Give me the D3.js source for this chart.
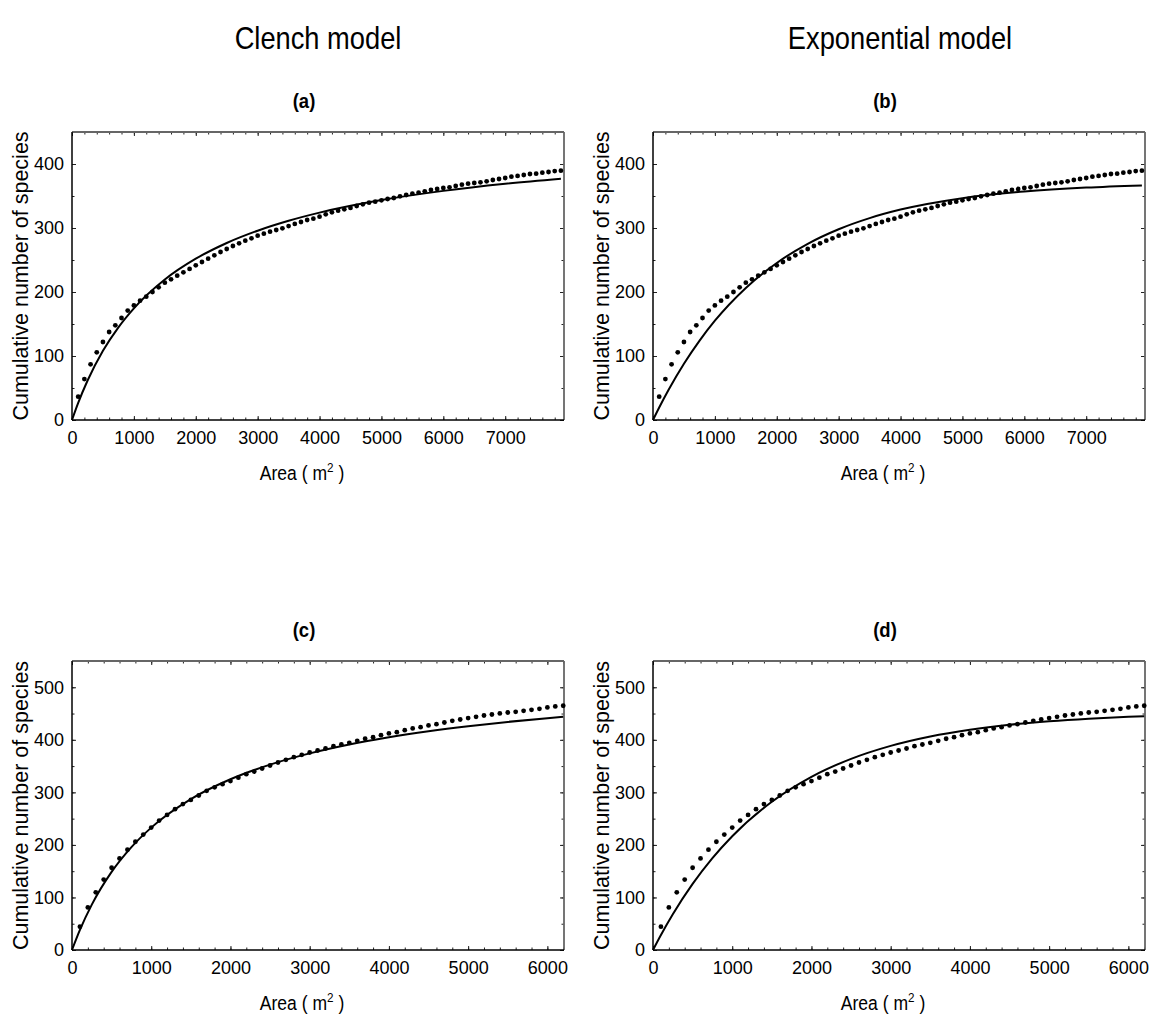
<!DOCTYPE html>
<html>
<head>
<meta charset="utf-8">
<script src="https://cdn.jsdelivr.net/npm/d3@7"></script>
<style>
body { margin: 0; background: #fff; }
svg text { font-family: Arial, "Liberation Sans", sans-serif; fill: #000; }
</style>
</head>
<body>
<div id="chart-area"></div>
<script>
/*
*    species accumulation: Clench vs exponential fits
*/

// observed cumulative species, one point every 100 m2 (top row data set)
var obsTopX = d3.range(100, 8000, 100)
var obsTopY = [36.5, 64, 87, 105.7, 121.9, 137.5, 148, 159.4, 171, 179,
    186.4, 192.7, 200, 207.3, 214.6, 219.8, 225.5, 230.7, 236, 241.7,
    246.9, 252, 257.3, 262.5, 267.2, 271.9, 276, 280.2, 283.8, 288,
    291.1, 294.3, 296.9, 299.5, 303, 306.3, 309.4, 312.5, 314.5, 317.7,
    321.4, 324.5, 327, 329.2, 331.3, 334.4, 337, 339.6, 341.1, 343.2,
    345.3, 346.9, 349.5, 351.6, 353.6, 355.2, 357.3, 359.4, 360.9, 362.5,
    363.5, 365.6, 367.7, 369.3, 370.3, 371.4, 373, 375, 376.6, 378.1,
    380.2, 381.3, 382.8, 384.4, 384.9, 386.5, 387.5, 389, 389.6]

// bottom row data set
var obsBotX = d3.range(100, 6300, 100)
var obsBotY = [44.4, 81, 109.8, 134, 156.5, 174.3, 191, 206, 219.7, 233,
    246.3, 257.1, 268, 277.8, 285.7, 294, 302.9, 309.5, 315.5, 321.5,
    328, 334.6, 339.5, 345.4, 351.1, 356.8, 362, 367, 371.4, 375.9,
    379.7, 383.5, 387.9, 391.1, 394.3, 398.1, 402, 405.1, 408.9, 412.1,
    414.6, 418.4, 421.6, 424.1, 427.3, 429.8, 433, 436.2, 438.7, 441.3,
    443.8, 446.3, 448.2, 450.2, 452, 453.3, 455.2, 457.1, 459, 461.6,
    463.5, 464.8]

// fitted curves at these areas
var fitTopX = [0, 100, 250, 500, 750, 1000, 1500, 2000, 2500, 3000, 3500, 4000, 5000, 6000, 7000, 7900]
var clenchTopY = [0, 26.7, 61.3, 108.1, 144.8, 174.5, 219.5, 252.0, 276.6, 295.8, 311.3, 324.0, 343.6, 358.0, 369.1, 377.1]
var expTopY = [0, 19.5, 46.9, 87.9, 123.7, 155.1, 206.3, 245.4, 275.3, 298.1, 315.5, 328.8, 346.6, 357.0, 363.1, 366.4]

var fitBotX = [0, 100, 250, 500, 750, 1000, 1500, 2000, 2500, 3000, 3500, 4000, 4500, 5000, 5500, 6000, 6200]
var clenchBotY = [0, 38.2, 86.3, 148.6, 195.8, 232.9, 287.1, 324.9, 352.8, 374.2, 391.2, 404.9, 416.3, 425.9, 434.1, 441.1, 443.7]
var expBotY = [0, 28.5, 68.0, 125.7, 174.8, 216.5, 282.1, 329.6, 363.8, 388.5, 406.4, 419.3, 428.7, 435.4, 440.3, 443.8, 444.9]

var xTicksTop = [0, 1000, 2000, 3000, 4000, 5000, 6000, 7000]
var xTicksBot = [0, 1000, 2000, 3000, 4000, 5000, 6000]
var yTicksTop = [0, 100, 200, 300, 400]
var yTicksBot = [0, 100, 200, 300, 400, 500]

var columnTitles = ["Clench model", "Exponential model"]
var panelLabels = ["(a)", "(b)", "(c)", "(d)"]

var plotW = 492
var panels = [
    {label: panelLabels[0], left: 72,  top: 132, h: 288, xMax: 7950, yMax: 450, obsX: obsTopX, obsY: obsTopY, fitX: fitTopX, fitY: clenchTopY, xt: xTicksTop, yt: yTicksTop},
    {label: panelLabels[1], left: 653, top: 132, h: 288, xMax: 7950, yMax: 450, obsX: obsTopX, obsY: obsTopY, fitX: fitTopX, fitY: expTopY, xt: xTicksTop, yt: yTicksTop},
    {label: panelLabels[2], left: 72,  top: 661, h: 289, xMax: 6210, yMax: 550, obsX: obsBotX, obsY: obsBotY, fitX: fitBotX, fitY: clenchBotY, xt: xTicksBot, yt: yTicksBot},
    {label: panelLabels[3], left: 653, top: 661, h: 289, xMax: 6210, yMax: 550, obsX: obsBotX, obsY: obsBotY, fitX: fitBotX, fitY: expBotY, xt: xTicksBot, yt: yTicksBot}
]

var svg = d3.select("#chart-area")
    .append("svg")
    .attr("width", 1153)
    .attr("height", 1021)

// condensed-looking text helper
function addText(parent, x, y, txt, size, weight) {
    return parent.append("text")
        .attr("transform", `translate(${x}, ${y}) scale(0.88, 1)`)
        .attr("text-anchor", "middle")
        .attr("font-size", size + "px")
        .attr("font-weight", weight || "normal")
        .text(txt)
}

addText(svg, 318, 49, columnTitles[0], 31)
addText(svg, 900, 49, columnTitles[1], 31)

panels.forEach((p) => {
    var g = svg.append("g").attr("transform", `translate(${p.left}, ${p.top})`)
    var x = d3.scaleLinear().domain([0, p.xMax]).range([0, plotW])
    var y = d3.scaleLinear().domain([0, p.yMax]).range([p.h, 0])

    var minorX = d3.range(0, p.xMax, 200)
    var minorY = d3.range(0, p.yMax, 50)

    // minor ticks on all sides (inward)
    g.append("g").attr("class", "minor").attr("transform", `translate(0, ${p.h})`)
        .call(d3.axisBottom(x).tickValues(minorX).tickSize(-2.5).tickFormat(""))
    g.append("g").attr("class", "minor")
        .call(d3.axisTop(x).tickValues(minorX).tickSize(-2.5).tickFormat(""))
    g.append("g").attr("class", "minor")
        .call(d3.axisLeft(y).tickValues(minorY).tickSize(-2.5).tickFormat(""))
    g.append("g").attr("class", "minor").attr("transform", `translate(${plotW}, 0)`)
        .call(d3.axisRight(y).tickValues(minorY).tickSize(-2.5).tickFormat(""))

    // major ticks + labels
    g.append("g").attr("class", "axis").attr("transform", `translate(0, ${p.h})`)
        .call(d3.axisBottom(x).tickValues(p.xt).tickSizeInner(-4).tickSizeOuter(0).tickPadding(11).tickFormat(d3.format("d")))
    g.append("g").attr("class", "axis")
        .call(d3.axisLeft(y).tickValues(p.yt).tickSizeInner(-4).tickSizeOuter(0).tickPadding(8).tickFormat(d3.format("d")))
    g.append("g").attr("class", "minor")
        .call(d3.axisTop(x).tickValues(p.xt).tickSize(-4).tickFormat(""))
    g.append("g").attr("class", "minor").attr("transform", `translate(${plotW}, 0)`)
        .call(d3.axisRight(y).tickValues(p.yt).tickSize(-4).tickFormat(""))

    g.selectAll(".domain").remove()
    g.selectAll(".tick line").attr("stroke", "#222")
    g.selectAll(".axis text").attr("font-size", "18px").attr("font-family", "Arial, 'Liberation Sans', sans-serif").attr("fill", "#000")

    // frame
    g.append("line").attr("x1", 0).attr("x2", plotW).attr("y1", 0).attr("y2", 0).attr("stroke", "#666").attr("stroke-width", 1.8)
    g.append("line").attr("x1", plotW).attr("x2", plotW).attr("y1", 0).attr("y2", p.h).attr("stroke", "#666").attr("stroke-width", 1.8)
    g.append("line").attr("x1", 0).attr("x2", 0).attr("y1", 0).attr("y2", p.h).attr("stroke", "#000").attr("stroke-width", 1.5)
    g.append("line").attr("x1", 0).attr("x2", plotW).attr("y1", p.h).attr("y2", p.h).attr("stroke", "#000").attr("stroke-width", 1.5)

    // fitted curve
    var line = d3.line()
        .x((d, i) => x(p.fitX[i]))
        .y((d) => y(d))
        .curve(d3.curveMonotoneX)
    g.append("path")
        .attr("d", line(p.fitY))
        .attr("fill", "none")
        .attr("stroke", "#000")
        .attr("stroke-width", 2)

    // observed points
    g.selectAll("circle.obs")
        .data(p.obsY)
        .enter()
        .append("circle")
            .attr("class", "obs")
            .attr("cx", (d, i) => x(p.obsX[i]))
            .attr("cy", (d) => y(d))
            .attr("r", 2.4)
            .attr("fill", "#000")

    // panel label
    addText(g, plotW / 2 - 14, -24, p.label, 21, "bold")

    // axis titles
    g.append("text")
        .attr("transform", `translate(-44, ${p.h / 2}) rotate(-90)`)
        .attr("text-anchor", "middle")
        .attr("font-size", "21.5px")
        .text("Cumulative number of species")

    var xt = g.append("text")
        .attr("transform", `translate(${plotW / 2 - 16}, ${p.h + 60}) scale(0.9, 1)`)
        .attr("text-anchor", "middle")
        .attr("font-size", "19.5px")
    xt.append("tspan").text("Area ( m")
    xt.append("tspan").attr("dy", -8).attr("font-size", "13px").text("2")
    xt.append("tspan").attr("dy", 8).text(" )")
})
</script>
</body>
</html>
